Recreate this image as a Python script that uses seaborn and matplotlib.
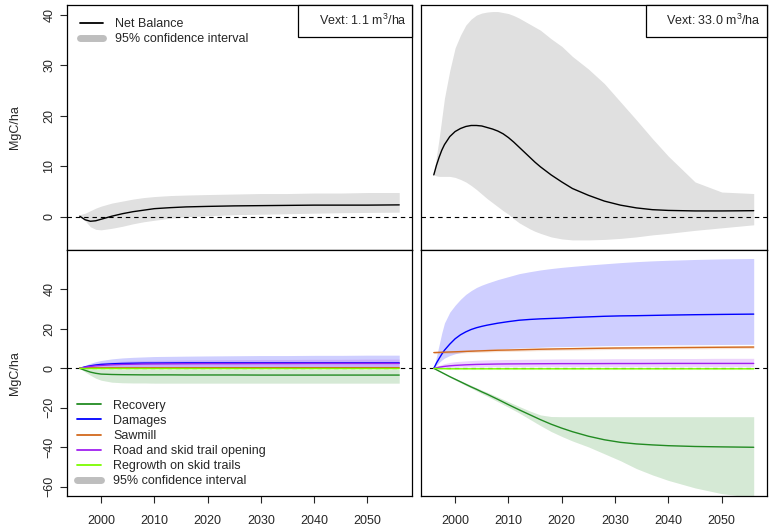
import numpy as np
import pandas as pd
import matplotlib
matplotlib.use("Agg")
import matplotlib.pyplot as plt
from matplotlib.lines import Line2D
from matplotlib.patches import Rectangle
import seaborn as sns

sns.set_style("ticks")
plt.rcParams['font.family'] = ['Liberation Sans', 'DejaVu Sans']
plt.rcParams['mathtext.fontset'] = 'custom'
plt.rcParams['mathtext.rm'] = 'Liberation Sans'

# ---------------- data ----------------
years = [1996, 1997, 1998, 1999, 2000, 2002, 2004, 2006, 2008, 2010,
         2013, 2016, 2020, 2025, 2030, 2035, 2040, 2045, 2050, 2056]
years_fine = [1996, 1996.5, 1997, 1997.5, 1998, 1999, 2000, 2001, 2002, 2003,
              2004, 2005, 2006, 2008, 2010, 2012, 2014, 2016, 2018, 2020,
              2022, 2025, 2028, 2031, 2034, 2037, 2040, 2045, 2050, 2056]
years_tr = [1996, 1996.5, 1997, 1997.5, 1998, 1999, 2000, 2001, 2002, 2003,
            2004, 2005, 2006, 2007, 2008, 2009, 2010, 2011, 2012, 2013,
            2014, 2015, 2016, 2018, 2020, 2022, 2025, 2028, 2031, 2034,
            2037, 2040, 2045, 2050, 2056]

# top-left (Vext 1.1) -- on `years`
net_low = [0.1, -0.6, -0.9, -0.8, -0.5, 0.1, 0.6, 1.0, 1.3, 1.6,
           1.8, 1.95, 2.05, 2.15, 2.2, 2.25, 2.3, 2.3, 2.3, 2.35]
net_low_up = [0.4, 0.7, 1.2, 1.7, 2.1, 2.7, 3.1, 3.5, 3.8, 4.0,
              4.2, 4.3, 4.4, 4.5, 4.6, 4.6, 4.7, 4.7, 4.8, 4.8]
net_low_lo = [0.0, -0.8, -2.0, -2.5, -2.6, -2.3, -1.9, -1.4, -1.0, -0.7,
              -0.3, 0.0, 0.2, 0.4, 0.5, 0.6, 0.7, 0.8, 0.85, 0.9]

# top-right (Vext 33.0) -- on `years_tr`
net_high = [8.3, 10.2, 11.8, 13.2, 14.3, 15.9, 16.9, 17.5, 17.9, 18.1,
            18.1, 18.0, 17.7, 17.4, 17.0, 16.45, 15.7, 14.8, 13.8, 12.8,
            11.8, 10.8, 9.9, 8.3, 6.9, 5.6, 4.25, 3.1, 2.3, 1.75,
            1.4, 1.25, 1.15, 1.15, 1.2]
net_high_up = [8.3, 12.0, 15.5, 19.5, 23.5, 29.0, 33.5, 36.0, 38.0, 39.2,
               40.0, 40.4, 40.6, 40.7, 40.7, 40.5, 40.3, 39.9, 39.4, 38.8,
               38.2, 37.6, 37.0, 35.3, 33.8, 31.8, 29.3, 26.4, 22.8, 19.2,
               15.5, 12.0, 6.9, 4.9, 4.6]
net_high_lo = [8.3, 8.1, 8.0, 8.0, 8.0, 8.0, 7.8, 7.4, 6.9, 6.2,
               5.4, 4.5, 3.6, 2.8, 2.0, 1.2, 0.5, -0.4, -1.2, -1.8,
               -2.4, -2.9, -3.3, -4.0, -4.4, -4.6, -4.6, -4.5, -4.3, -4.0,
               -3.6, -3.3, -2.7, -2.2, -1.6]

# bottom-left components (Vext 1.1) -- on `years`
rec_l = [0, -1.0, -1.9, -2.5, -2.9, -3.1, -3.2, -3.25, -3.3, -3.3,
         -3.3, -3.35, -3.35, -3.35, -3.4, -3.4, -3.4, -3.4, -3.4, -3.4]
rec_l_up = [0, -0.3, -0.5, -0.6, -0.6, -0.6, -0.6, -0.6, -0.6, -0.6,
            -0.6, -0.6, -0.6, -0.6, -0.6, -0.6, -0.6, -0.6, -0.6, -0.6]
rec_l_lo = [0, -1.8, -3.5, -5.0, -6.0, -7.0, -7.3, -7.4, -7.4, -7.5,
            -7.5, -7.5, -7.5, -7.5, -7.5, -7.5, -7.5, -7.5, -7.5, -7.5]
dam_l = [0, 0.8, 1.3, 1.7, 2.0, 2.3, 2.5, 2.6, 2.7, 2.7,
         2.75, 2.8, 2.8, 2.8, 2.8, 2.8, 2.8, 2.8, 2.8, 2.8]
dam_l_up = [0, 1.5, 2.6, 3.4, 4.0, 4.8, 5.3, 5.6, 5.8, 6.0,
            6.1, 6.2, 6.3, 6.4, 6.5, 6.5, 6.6, 6.6, 6.7, 6.7]
dam_l_lo = [0, 0.3, 0.5, 0.6, 0.7, 0.8, 0.9, 0.9, 1.0, 1.0,
            1.0, 1.0, 1.0, 1.0, 1.0, 1.0, 1.0, 1.0, 1.0, 1.0]
saw_l = [0.27, 0.27, 0.28, 0.28, 0.28, 0.29, 0.29, 0.30, 0.30, 0.31,
         0.31, 0.32, 0.33, 0.34, 0.34, 0.35, 0.35, 0.35, 0.36, 0.36]
saw_l_up = [0.57, 0.57, 0.58, 0.58, 0.58, 0.59, 0.59, 0.60, 0.60, 0.61,
            0.61, 0.62, 0.63, 0.64, 0.64, 0.65, 0.65, 0.65, 0.66, 0.66]
saw_l_lo = [0.0, 0.0, 0.0, 0.0, 0.0, 0.0, 0.0, 0.0, 0.0, 0.01,
            0.01, 0.02, 0.03, 0.04, 0.04, 0.05, 0.05, 0.05, 0.06, 0.06]
road_l = [0, 0.6, 1.0, 1.3, 1.5, 1.8, 2.0, 2.1, 2.2, 2.25,
          2.3, 2.35, 2.4, 2.4, 2.45, 2.45, 2.5, 2.5, 2.5, 2.5]
road_l_up = [0, 1.3, 2.0, 2.5, 2.9, 3.3, 3.6, 3.8, 3.9, 4.0,
             4.1, 4.2, 4.3, 4.4, 4.5, 4.5, 4.6, 4.6, 4.7, 4.7]
road_l_lo = [0, 0.2, 0.4, 0.5, 0.6, 0.7, 0.7, 0.75, 0.8, 0.8,
             0.8, 0.8, 0.8, 0.8, 0.8, 0.8, 0.8, 0.8, 0.8, 0.8]
reg_l = [0, -0.05, -0.1, -0.1, -0.1, -0.1, -0.1, -0.1, -0.1, -0.1,
         -0.1, -0.1, -0.1, -0.1, -0.1, -0.1, -0.1, -0.1, -0.1, -0.1]
reg_l_up = [0, 0.2, 0.2, 0.2, 0.2, 0.2, 0.2, 0.2, 0.2, 0.2,
            0.2, 0.2, 0.2, 0.2, 0.2, 0.2, 0.2, 0.2, 0.2, 0.2]
reg_l_lo = [0, -0.3, -0.4, -0.4, -0.4, -0.4, -0.4, -0.4, -0.4, -0.4,
            -0.4, -0.4, -0.4, -0.4, -0.4, -0.4, -0.4, -0.4, -0.4, -0.4]

# bottom-right components (Vext 33.0)
# recovery & damages on `years_fine`
rec_h = [0, -0.7, -1.4, -2.1, -2.8, -4.2, -5.5, -6.8, -8.1, -9.4,
         -10.6, -11.9, -13.1, -15.7, -18.4, -21.0, -23.5, -26.0, -28.3, -30.3,
         -32.1, -34.4, -36.2, -37.5, -38.3, -38.8, -39.2, -39.6, -39.8, -40.0]
rec_h_up = [0, -0.6, -1.2, -1.9, -2.5, -3.8, -5.0, -6.2, -7.4, -8.6,
            -9.8, -11.0, -12.1, -14.5, -16.9, -19.3, -21.6, -23.6, -24.4, -24.5,
            -24.5, -24.5, -24.5, -24.5, -24.5, -24.5, -24.5, -24.5, -24.5, -24.5]
rec_h_lo = [0, -0.8, -1.5, -2.3, -3.0, -4.5, -5.9, -7.3, -8.7, -10.0,
            -11.4, -12.8, -14.1, -16.9, -19.7, -22.6, -25.8, -29.0, -32.0, -34.5,
            -36.8, -39.8, -43.3, -46.8, -50.8, -54.0, -56.8, -60.6, -63.5, -65.5]
dam_h = [0, 2.7, 5.0, 7.2, 9.2, 12.3, 15.0, 17.0, 18.5, 19.7,
         20.6, 21.3, 21.9, 22.9, 23.7, 24.4, 24.8, 25.1, 25.3, 25.5,
         25.8, 26.1, 26.4, 26.6, 26.7, 26.85, 27.0, 27.2, 27.35, 27.5]
dam_h_up = [0, 6.0, 12.0, 18.0, 23.0, 28.5, 32.0, 35.0, 37.5, 39.4,
            41.0, 42.2, 43.2, 45.0, 46.5, 48.0, 49.0, 49.9, 50.6, 51.2,
            51.7, 52.4, 53.0, 53.6, 54.1, 54.5, 54.8, 55.2, 55.5, 55.7]
dam_h_lo = [0, 1.5, 3.0, 4.2, 5.2, 6.5, 7.4, 8.0, 8.5, 8.8,
            9.1, 9.3, 9.5, 9.8, 10.1, 10.3, 10.5, 10.7, 10.9, 11.0,
            11.1, 11.3, 11.5, 11.6, 11.7, 11.8, 11.9, 12.0, 12.1, 12.2]
# sawmill, road, regrowth on `years`
saw_h = [8.0, 8.1, 8.2, 8.3, 8.4, 8.6, 8.8, 9.0, 9.2, 9.3,
         9.5, 9.7, 9.9, 10.1, 10.3, 10.4, 10.5, 10.6, 10.7, 10.8]
saw_h_up = [8.6, 8.8, 8.9, 9.0, 9.1, 9.3, 9.5, 9.7, 9.9, 10.0,
            10.2, 10.4, 10.6, 10.8, 11.0, 11.1, 11.2, 11.3, 11.4, 11.5]
saw_h_lo = [7.5, 7.5, 7.6, 7.6, 7.7, 7.9, 8.1, 8.3, 8.5, 8.6,
            8.8, 9.0, 9.2, 9.4, 9.6, 9.7, 9.8, 9.9, 10.0, 10.1]
road_h = [0, 0.6, 1.0, 1.3, 1.5, 1.8, 2.0, 2.1, 2.2, 2.25,
          2.3, 2.35, 2.4, 2.4, 2.45, 2.45, 2.5, 2.5, 2.5, 2.5]
road_h_up = [0, 1.5, 2.4, 3.0, 3.4, 3.8, 4.1, 4.3, 4.4, 4.5,
             4.6, 4.7, 4.8, 4.8, 4.9, 4.9, 5.0, 5.0, 5.1, 5.1]
road_h_lo = [0, 0.2, 0.4, 0.5, 0.6, 0.7, 0.7, 0.75, 0.8, 0.8,
             0.8, 0.8, 0.8, 0.8, 0.8, 0.8, 0.8, 0.8, 0.8, 0.8]
reg_h = [0, -0.1, -0.15, -0.2, -0.2, -0.2, -0.2, -0.2, -0.2, -0.2,
         -0.2, -0.2, -0.2, -0.2, -0.2, -0.2, -0.2, -0.2, -0.2, -0.2]
reg_h_up = [0, 0.1, 0.2, 0.2, 0.2, 0.2, 0.2, 0.2, 0.2, 0.2,
            0.2, 0.2, 0.2, 0.2, 0.2, 0.2, 0.2, 0.2, 0.2, 0.2]
reg_h_lo = [0, -0.3, -0.5, -0.6, -0.6, -0.6, -0.6, -0.6, -0.6, -0.6,
            -0.6, -0.6, -0.6, -0.6, -0.6, -0.6, -0.6, -0.6, -0.6, -0.6]

vext_labels = ["Vext: 1.1 m$^3$/ha", "Vext: 33.0 m$^3$/ha"]
comp_names = ["Recovery", "Damages", "Sawmill", "Road and skid trail opening",
              "Regrowth on skid trails"]
comp_colors = ["#228B22", "#0000FF", "#D2691E", "#A020F0", "#7CFC00"]
x_ticks = [2000, 2010, 2020, 2030, 2040, 2050]
top_yticks = [0, 10, 20, 30, 40]
bot_yticks = [-60, -40, -20, 0, 20, 40]

# ---------------- figure ----------------
W, H = 769, 527
fig = plt.figure(figsize=(W / 100, H / 100), dpi=100)

def px_axes(x0, y0, x1, y1):
    return fig.add_axes([x0 / W, 1 - y1 / H, (x1 - x0) / W, (y1 - y0) / H])

ax_tl = px_axes(67, 5, 412, 250)
ax_tr = px_axes(421, 5, 766.5, 250)
ax_bl = px_axes(67, 250, 412, 496)
ax_br = px_axes(421, 250, 766.5, 496)

FS = 9
CI_GREY = "#E0E0E0"

def style(ax, ylim, yticks, show_y, show_x):
    ax.set_xlim(1993.6, 2058.4)
    ax.set_ylim(*ylim)
    for s in ax.spines.values():
        s.set_visible(True)
        s.set_color("black")
        s.set_linewidth(0.9)
    ax.set_xticks(x_ticks)
    ax.set_yticks(yticks)
    ax.tick_params(axis="x", direction="out", length=5, width=0.8, pad=9,
                   labelsize=FS, bottom=show_x, labelbottom=show_x)
    ax.tick_params(axis="y", direction="out", length=5, width=0.8, pad=3.5,
                   labelsize=FS, left=show_y, labelleft=show_y)
    if show_y:
        for lab in ax.get_yticklabels():
            lab.set_rotation(90)
            lab.set_va("center")
        ax.set_ylabel("MgC/ha", fontsize=FS, labelpad=16)
    else:
        ax.set_ylabel("")
    ax.set_xlabel("")
    ax.axhline(0, color="black", lw=0.8, ls=(0, (4, 3.5)), zorder=5)
    ax.grid(False)

def vext_box(ax, text, x0):
    ax.add_patch(Rectangle((x0, 0.871), 1 - x0, 0.129, transform=ax.transAxes,
                           facecolor="white", edgecolor="black", lw=0.9,
                           zorder=10, clip_on=False))
    ax.text(0.985, 0.936, text, transform=ax.transAxes, ha="right",
            va="center", fontsize=FS, zorder=11)

# top panels
for ax, yrs, mean, up, lo, vl, bx in [
        (ax_tl, years, net_low, net_low_up, net_low_lo, vext_labels[0], 0.670),
        (ax_tr, years_tr, net_high, net_high_up, net_high_lo, vext_labels[1], 0.651)]:
    ax.fill_between(yrs, lo, up, color=CI_GREY, lw=0, zorder=1)
    df = pd.DataFrame({"year": yrs, "value": mean})
    sns.lineplot(data=df, x="year", y="value", ax=ax, color="black", lw=1.0,
                 zorder=6)
    style(ax, (-6.6, 42.0), top_yticks, ax is ax_tl, False)
    vext_box(ax, vl, bx)

ax_tl.legend(
    handles=[Line2D([], [], color="black", lw=1.3),
             Line2D([], [], color="#BEBEBE", lw=5, solid_capstyle="round")],
    labels=["Net Balance", "95% confidence interval"],
    loc="upper left", bbox_to_anchor=(0.011, 0.983), frameon=False,
    fontsize=FS, handlelength=1.85, handletextpad=1.0, labelspacing=0.25,
    borderaxespad=0.3)

# bottom panels
bottom_sets = [
    (ax_bl, [(years, rec_l, rec_l_up, rec_l_lo), (years, dam_l, dam_l_up, dam_l_lo),
             (years, saw_l, saw_l_up, saw_l_lo), (years, road_l, road_l_up, road_l_lo),
             (years, reg_l, reg_l_up, reg_l_lo)]),
    (ax_br, [(years_fine, rec_h, rec_h_up, rec_h_lo),
             (years_fine, dam_h, dam_h_up, dam_h_lo),
             (years, saw_h, saw_h_up, saw_h_lo), (years, road_h, road_h_up, road_h_lo),
             (years, reg_h, reg_h_up, reg_h_lo)]),
]
for ax, sets in bottom_sets:
    rows = []
    for (yrs, mean, up, lo), name, col in zip(sets, comp_names, comp_colors):
        ax.fill_between(yrs, lo, up, color=col, alpha=0.19, lw=0, zorder=1)
        for y, v in zip(yrs, mean):
            rows.append({"year": y, "value": v, "component": name})
    df = pd.DataFrame(rows)
    sns.lineplot(data=df, x="year", y="value", hue="component",
                 hue_order=comp_names, palette=comp_colors, ax=ax, lw=1.0,
                 legend=False, zorder=6, estimator=None)
    style(ax, (-64.7, 60.0), bot_yticks, ax is ax_bl, True)

handles = [Line2D([], [], color=c, lw=1.3) for c in comp_colors]
handles.append(Line2D([], [], color="#BEBEBE", lw=5, solid_capstyle="round"))
ax_bl.legend(handles=handles, labels=comp_names + ["95% confidence interval"],
             loc="lower left", bbox_to_anchor=(0.005, 0.0), frameon=False,
             fontsize=FS, handlelength=1.85, handletextpad=1.0,
             labelspacing=0.25, borderaxespad=0.3)

fig.savefig("out.png", dpi=100)
